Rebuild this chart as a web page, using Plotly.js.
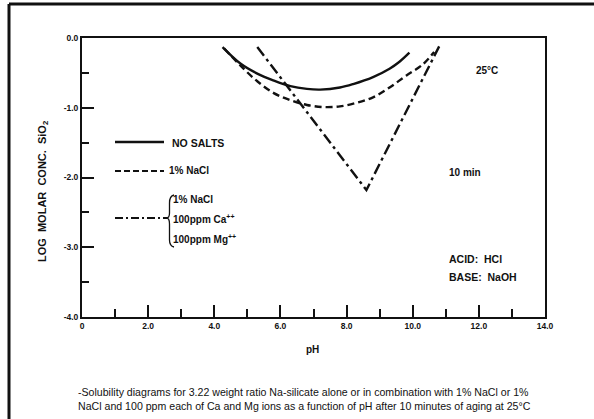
<!DOCTYPE html>
<html>
<head>
<meta charset="utf-8">
<script src="https://cdn.plot.ly/plotly-3.0.1.min.js"></script>
<style>html,body{margin:0;padding:0;background:#fff;}#chart{width:594px;height:419px;}</style>
</head>
<body>
<div id="chart"></div>
<script>
// ---- data ----
const phNoSalts = [4.25, 4.8, 5.3, 5.8, 6.3, 6.8, 7.2, 7.8, 8.2, 8.8, 9.3, 9.6, 9.9];
const logNoSalts = [-0.13, -0.37, -0.51, -0.61, -0.69, -0.73, -0.74, -0.71, -0.66, -0.56, -0.44, -0.34, -0.21];

const phNaCl = [4.3, 4.8, 5.3, 5.8, 6.3, 6.8, 7.3, 7.8, 8.3, 8.8, 9.3, 9.8, 10.3, 10.65];
const logNaCl = [-0.15, -0.40, -0.62, -0.79, -0.89, -0.96, -0.99, -0.98, -0.93, -0.85, -0.71, -0.54, -0.38, -0.2];

const phCaMg = [5.3, 8.6, 10.8];
const logCaMg = [-0.13, -2.18, -0.12];

const xTickVals = [0, 2, 4, 6, 8, 10, 12, 14];
const xTickText = ["0", "2.0", "4.0", "6.0", "8.0", "10.0", "12.0", "14.0"];
const yTickVals = [0, -1, -2, -3, -4];
const yTickText = ["0.0", "-1.0", "-2.0", "-3.0", "-4.0"];

const legendLabels = ["NO SALTS", "1% NaCl"];
const bracketLabels = ["1% NaCl", "100ppm Ca<sup>++</sup>", "100ppm Mg<sup>++</sup>"];
const yTitle = "LOG\u00A0\u00A0MOLAR\u00A0\u00A0CONC.\u00A0\u00A0SiO<sub>2</sub>";
const caption = "-Solubility diagrams for 3.22 weight ratio Na-silicate alone or in combination with 1% NaCl or 1%<br>NaCl and 100 ppm each of Ca and Mg ions as a function of pH after 10 minutes of aging at 25°C";

// ---- layout helpers (pixel -> paper) ----
const W = 594, H = 419, L = 82, R = 49, T = 38, B = 102;
const PW = W - L - R, PH = H - T - B;
const xp = px => (px - L) / PW;
const yp = py => (H - B - py) / PH;

const FONT = "Liberation Sans, Arial, sans-serif";
const ink = "#111";

const traces = [
  {x: phNoSalts, y: logNoSalts, mode: "lines", line: {color: ink, width: 2.4, shape: "spline"}, hoverinfo: "skip"},
  {x: phNaCl, y: logNaCl, mode: "lines", line: {color: ink, width: 2.4, dash: "7px,4px", shape: "spline"}, hoverinfo: "skip"},
  {x: phCaMg, y: logCaMg, mode: "lines", line: {color: ink, width: 2.4, dash: "11px,4px,3px,4px"}, hoverinfo: "skip"}
];

function ann(text, px, py, size, opts) {
  return Object.assign({
    text: text, xref: "paper", yref: "paper", x: xp(px), y: yp(py),
    xanchor: "left", yanchor: "middle", showarrow: false,
    font: {family: FONT, size: size, color: ink, weight: "bold"}
  }, opts || {});
}

const annotations = [
  ann(legendLabels[0], 170, 143, 10.5),
  ann(legendLabels[1], 167, 171, 10),
  ann(bracketLabels[0], 171, 200, 10),
  ann(bracketLabels[1], 171, 219, 10),
  ann(bracketLabels[2], 171, 239, 10),
  ann("25°C", 474, 70, 10),
  ann("10 min", 447, 172, 10),
  ann("ACID:  HCl", 447, 259, 10.5),
  ann("BASE:  NaOH", 447, 277, 10.5),
  ann("pH", 304, 349, 10),
  ann(yTitle, 43, 192, 11, {xanchor: "center", textangle: -90}),
  ann(caption, 76, 399, 10.6, {align: "left", font: {family: FONT, size: 10.6, color: ink}})
];

function pathPx(cmds) {
  return cmds.map(c => c[0] + " " + c.slice(1).map((v, i) => (i % 2 === 0 ? xp(v) : yp(v)).toFixed(5)).join(" ")).join(" ");
}

const shapes = [
  // outer page border (top and left)
  {type: "line", xref: "paper", yref: "paper", x0: xp(9), y0: yp(4), x1: xp(600), y1: yp(4), line: {color: ink, width: 3}},
  {type: "line", xref: "paper", yref: "paper", x0: xp(9), y0: yp(4), x1: xp(9), y1: yp(425), line: {color: ink, width: 3}},
  // legend samples
  {type: "line", xref: "paper", yref: "paper", x0: xp(115), y0: yp(142), x1: xp(164), y1: yp(142), line: {color: ink, width: 2.4}},
  {type: "line", xref: "paper", yref: "paper", x0: xp(115), y0: yp(171), x1: xp(164), y1: yp(171), line: {color: ink, width: 2, dash: "6px,3px"}},
  {type: "line", xref: "paper", yref: "paper", x0: xp(115), y0: yp(218), x1: xp(167), y1: yp(218), line: {color: ink, width: 2, dash: "8px,3px,2px,3px"}},
  // bracket
  {type: "path", xref: "paper", yref: "paper", line: {color: ink, width: 1.3},
   path: pathPx([["M", 174, 195], ["Q", 169.5, 196, 169.5, 203], ["L", 169.5, 213], ["Q", 169.5, 218, 166.5, 218],
                 ["Q", 169.5, 218, 169.5, 224], ["L", 169.5, 240], ["Q", 169.5, 246, 174, 247]])}
];

const layout = {
  width: W, height: H,
  margin: {l: L, r: R, t: T, b: B, pad: 0},
  paper_bgcolor: "#fff", plot_bgcolor: "#fff",
  showlegend: false,
  xaxis: {
    range: [0, 14], showgrid: false, zeroline: false,
    showline: true, linecolor: ink, linewidth: 2, mirror: true,
    tickvals: xTickVals, ticktext: xTickText,
    ticks: "inside", ticklen: 12, tickwidth: 2, tickcolor: ink,
    minor: {dtick: 1, ticks: "inside", ticklen: 8, tickwidth: 2, tickcolor: ink, showgrid: false},
    tickfont: {family: FONT, size: 8.5, color: ink, weight: "bold"}
  },
  yaxis: {
    range: [-4, 0], showgrid: false, zeroline: false,
    showline: true, linecolor: ink, linewidth: 2, mirror: true,
    tickvals: yTickVals, ticktext: yTickText,
    ticks: "inside", ticklen: 12, tickwidth: 2, tickcolor: ink,
    minor: {dtick: 0.5, ticks: "inside", ticklen: 7, tickwidth: 2, tickcolor: ink, showgrid: false},
    tickfont: {family: FONT, size: 8.5, color: ink, weight: "bold"}
  },
  annotations: annotations,
  shapes: shapes
};

Plotly.newPlot("chart", traces, layout, {staticPlot: true, displayModeBar: false});
</script>
</body>
</html>
